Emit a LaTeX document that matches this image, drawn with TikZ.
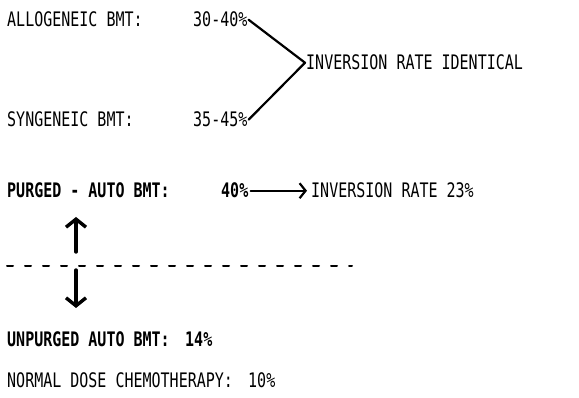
\documentclass[tikz,border=0pt]{standalone}
\usepackage{fontspec}
\setmainfont[FakeStretch=0.75]{DejaVu Sans Mono}
\usetikzlibrary{arrows.meta}
\begin{document}
\begin{tikzpicture}[x=1pt, y=-1pt, line cap=round, line join=round, font=\fontsize{20}{22}\selectfont,
	every node/.style={anchor=base west, inner sep=0pt},
	brk/.style={line width=2.2pt},
	bigarrow/.style={line width=3.4pt, -{Straight Barb[length=8pt, width=20pt, line width=3.4pt]}},
	thinarrow/.style={line width=1.8pt, -{Straight Barb[length=6pt, width=15pt, line width=2.2pt]}}]
	% Khung hình theo kích thước ảnh gốc
	\useasboundingbox (0,0) rectangle (579,398);
	
	% Các dòng chữ
	\node (allo) at (7,27) {ALLOGENEIC BMT:};
	\node (r3040) at (193,27) {30-40\%};
	\node (ident) at (306,70) {INVERSION RATE IDENTICAL};
	\node (syn) at (7,127) {SYNGENEIC BMT:};
	\node (r3545) at (193,127) {35-45\%};
	
	\node (purged) at (7,198) {\bfseries PURGED - AUTO BMT:};
	\node (p40) at (221,198) {\bfseries 40\%};
	\node (inv23) at (311,198) {INVERSION RATE 23\%};
	
	\node (unpurged) at (7,347) {\bfseries UNPURGED AUTO BMT:};
	\node (p14) at (185,347) {\bfseries 14\%};
	\node (normal) at (7,388) {NORMAL DOSE CHEMOTHERAPY:};
	\node (p10) at (248,388) {10\%};
	
	% Ngoặc nối hai tỉ lệ
	\draw[brk] ([xshift=1pt]r3040.east) -- ([xshift=-1pt]ident.west) -- ([xshift=1pt]r3545.east);
	
	% Mũi tên ngang
	\draw[thinarrow] ([xshift=2pt]p40.east) -- ([xshift=-4pt]inv23.west);
	
	% Đường gạch ngang và hai mũi tên dọc
	\coordinate (d1) at (7,266);
	\coordinate (d2) at (352,266);
	\draw[line width=2pt, dash pattern=on 6pt off 12pt] (d1) -- (d2);
	\coordinate (upfoot) at (76,252);
	\coordinate (uptip) at (76,217);
	\coordinate (downfoot) at (76,270);
	\coordinate (downtip) at (76,308);
	\draw[bigarrow] (upfoot) -- (uptip);
	\draw[bigarrow] (downfoot) -- (downtip);
\end{tikzpicture}
\end{document}
